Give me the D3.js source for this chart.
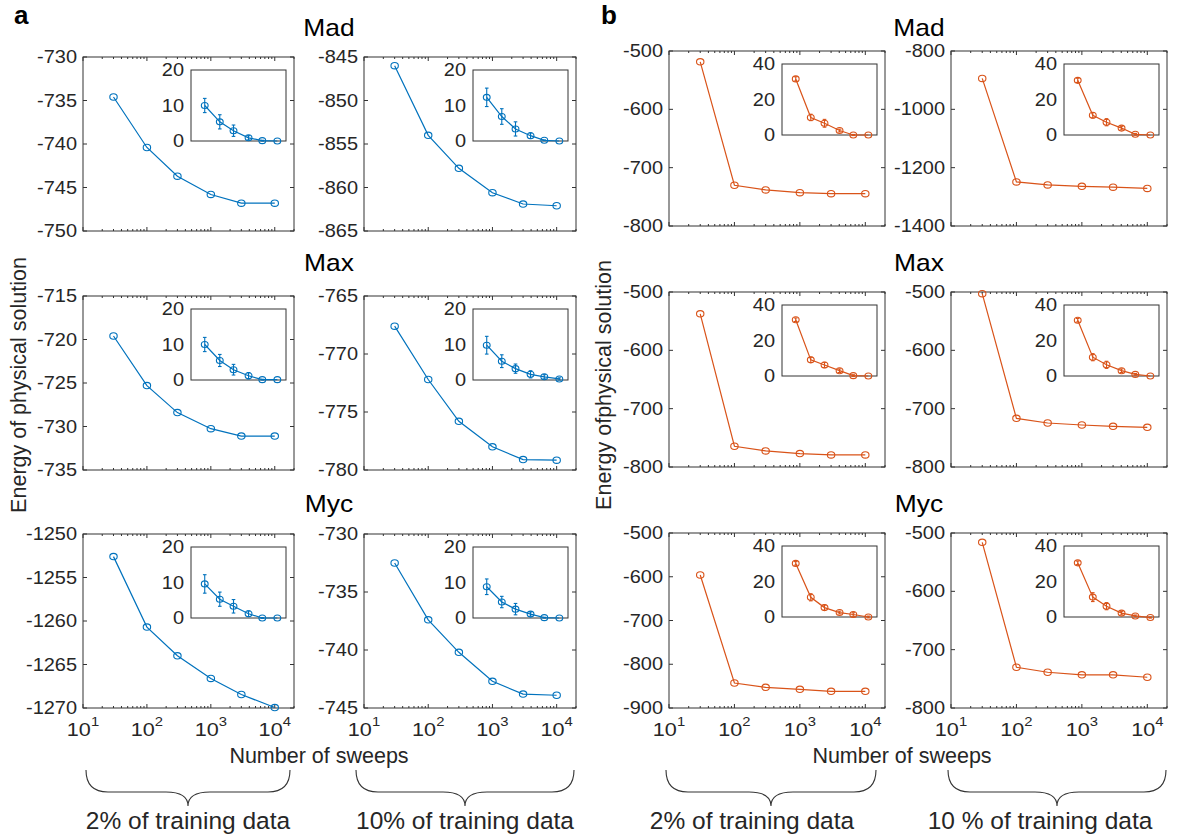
<!DOCTYPE html>
<meta charset="utf-8">
<title>sweeps</title>
<script src="https://cdn.jsdelivr.net/npm/d3@7/dist/d3.min.js"></script>
<style>
body { margin: 0; background: #fff; }
text { font-family: "Liberation Sans", Arial, sans-serif; fill: #262626; }
</style>
<body>
<script>

// number of sweeps (x of every panel)
var sweeps = [30, 100, 300, 1000, 3000, 10000];
var proteins = ["Mad", "Max", "Myc"];

// panel a (blue), energy of physical solution, rows Mad / Max / Myc
var blueEnergy2 = [
  [-734.6, -740.4, -743.7, -745.8, -746.8, -746.8],
  [-719.6, -725.3, -728.4, -730.25, -731.1, -731.1],
  [-1252.6, -1260.7, -1264.0, -1266.6, -1268.45, -1269.95]
];
var blueEnergy10 = [
  [-846.0, -854.0, -857.8, -860.6, -861.9, -862.1],
  [-767.6, -772.2, -775.8, -778.0, -779.1, -779.15],
  [-732.5, -737.4, -740.2, -742.7, -743.8, -743.9]
];
// insets: gap to best energy and its error bar
var blueGap2 = [
  [10.0, 5.4, 2.9, 0.9, 0.1, 0],
  [10.0, 5.5, 2.9, 1.2, 0.1, 0.1],
  [9.6, 5.3, 3.3, 1.2, 0, 0]
];
var blueErr2 = [
  [2.0, 2.0, 1.6, 0.6, 0.1, 0],
  [2.0, 1.7, 1.5, 0.9, 0.1, 0],
  [2.6, 2.0, 1.9, 0.8, 0.1, 0]
];
var blueGap10 = [
  [12.3, 6.9, 3.4, 1.5, 0.2, 0],
  [9.8, 5.3, 3.2, 1.6, 0.9, 0.3],
  [8.8, 4.5, 2.5, 1.1, 0.1, 0]
];
var blueErr10 = [
  [2.6, 2.2, 2.0, 0.8, 0.1, 0],
  [2.5, 1.8, 1.3, 1.0, 0.6, 0.3],
  [2.2, 1.6, 1.6, 0.6, 0.1, 0]
];

// panel b (orange)
var orangeEnergy2 = [
  [-518.5, -730.1, -738.2, -742.8, -744.5, -744.5],
  [-537.4, -764.4, -772.4, -777.0, -779.3, -779.3],
  [-596, -842.9, -852.8, -857.3, -861.9, -861.9]
];
var orangeEnergy10 = [
  [-894, -1249, -1259, -1264, -1267, -1271],
  [-502.9, -716.6, -724.6, -728, -730.3, -732],
  [-516, -730.1, -738.7, -743.2, -743.2, -747.3]
];
var orangeGap2 = [
  [31.6, 9.9, 6.6, 2.5, 0, 0],
  [31.7, 9.1, 6.2, 3.0, 0.2, 0],
  [30.2, 11.1, 5.3, 2.5, 1.4, 0]
];
var orangeErr2 = [
  [1.2, 1.8, 2.2, 0.8, 0.3, 0],
  [1.0, 1.5, 1.5, 1.0, 0.5, 0],
  [1.0, 2.0, 1.5, 0.8, 1.0, 0.5]
];
var orangeGap10 = [
  [30.8, 11.1, 7.2, 3.9, 0.4, 0],
  [31.4, 10.6, 6.3, 3.0, 0.9, 0],
  [30.5, 11.2, 6.1, 2.2, 0.6, -0.3]
];
var orangeErr10 = [
  [1.2, 1.5, 2.0, 1.0, 0.5, 0],
  [1.0, 2.0, 2.0, 1.0, 0.5, 0],
  [1.0, 2.5, 2.0, 1.0, 0.5, 0.3]
];

// y tick labels of the main axes
var blueTicks2 = [[-750, -745, -740, -735, -730], [-735, -730, -725, -720, -715], [-1270, -1265, -1260, -1255, -1250]];
var blueTicks10 = [[-865, -860, -855, -850, -845], [-780, -775, -770, -765], [-745, -740, -735, -730]];
var orangeTicks2 = [[-800, -700, -600, -500], [-800, -700, -600, -500], [-900, -800, -700, -600, -500]];
var orangeTicks10 = [[-1400, -1200, -1000, -800], [-800, -700, -600, -500], [-800, -700, -600, -500]];
var blueInsetTicks = [0, 10, 20];
var orangeInsetTicks = [0, 20, 40];
var xTickPowers = [1, 2, 3, 4];


var W = 1186, H = 836;
var svg = d3.select("body").append("svg")
    .attr("width", W)
    .attr("height", H);

var axisColor = "#333";
var TSX = 1.14;  // tick labels look a bit wide

function label(g, x, y, s, size, anchor, sx) {
  return g.append("text")
    .attr("transform", "translate(" + x + "," + y + ") scale(" + (sx || 1) + ",1)")
    .attr("text-anchor", anchor || "start")
    .attr("font-size", size + "px")
    .text(s);
}

function drawPanel(opt) {
  var g = svg.append("g");
  var x0 = opt.left, x1 = opt.left + opt.width;
  var y0 = opt.top, y1 = opt.top + opt.height;

  var x = d3.scaleLog().domain([10, 20000]).range([x0, x1]);
  var ext = d3.extent(opt.ticks);
  var y = d3.scaleLinear().domain(ext).range([y1, y0]);

  // box
  g.append("rect")
    .attr("x", x0).attr("y", y0)
    .attr("width", opt.width).attr("height", opt.height)
    .attr("fill", "none").attr("stroke", axisColor).attr("stroke-width", 1);

  // log ticks inside, top and bottom
  var xt = x.ticks().filter(function(v){ return v >= 10 && v <= 20000; });
  xt.forEach(function(v) {
    var major = Math.abs(Math.log10(v) - Math.round(Math.log10(v))) < 1e-9;
    var len = major ? 4 : 2;
    var px = x(v);
    g.append("line").attr("x1", px).attr("x2", px).attr("y1", y1).attr("y2", y1 - len)
      .attr("stroke", axisColor);
    g.append("line").attr("x1", px).attr("x2", px).attr("y1", y0).attr("y2", y0 + len)
      .attr("stroke", axisColor);
  });

  // y ticks both sides + labels on left
  opt.ticks.forEach(function(v) {
    var py = y(v);
    g.append("line").attr("x1", x0).attr("x2", x0 + 4).attr("y1", py).attr("y2", py).attr("stroke", axisColor);
    g.append("line").attr("x1", x1).attr("x2", x1 - 4).attr("y1", py).attr("y2", py).attr("stroke", axisColor);
    label(g, x0 - 6, py + 6, String(v), 17.5, "end", TSX);
  });

  if (opt.xLabels) {
    xTickPowers.forEach(function(p) {
      var t = g.append("text")
        .attr("transform", "translate(" + x(Math.pow(10, p)) + "," + (y1 + 28) + ") scale(" + TSX + ",1)")
        .attr("text-anchor", "middle")
        .attr("font-size", "19px");
      t.append("tspan").text("10");
      t.append("tspan").attr("dy", -10).attr("font-size", "13px").text(p);
    });
  }

  // main line
  var pts = sweeps.map(function(s, i){ return [x(s), y(opt.energy[i])]; });
  g.append("path")
    .attr("d", d3.line()(pts))
    .attr("fill", "none").attr("stroke", opt.color).attr("stroke-width", 1.2);
  g.selectAll(null).data(pts).enter().append("ellipse")
    .attr("cx", function(d){ return d[0]; })
    .attr("cy", function(d){ return d[1]; })
    .attr("rx", 3.7).attr("ry", 3.2)
    .attr("fill", "none").attr("stroke", opt.color).attr("stroke-width", 1.1);

  // inset
  var ix0 = x1 - 8 - 95, ix1 = x1 - 8;
  var iy0 = y0 + 13, iy1 = y0 + 13 + 71;
  var ix = d3.scaleLog().domain([10, 20000]).range([ix0, ix1]);
  var iy = d3.scaleLinear().domain(d3.extent(opt.insetTicks)).range([iy1, iy0]);
  var ig = g.append("g");
  ig.append("rect")
    .attr("x", ix0).attr("y", iy0)
    .attr("width", ix1 - ix0).attr("height", iy1 - iy0)
    .attr("fill", "#fff").attr("stroke", axisColor).attr("stroke-width", 1);
  opt.insetTicks.forEach(function(v) {
    label(ig, ix0 - 7, iy(v) + 6, String(v), 17.5, "end", TSX);
  });
  var ipts = sweeps.map(function(s, i){ return [ix(s), iy(opt.gap[i]), opt.err[i]]; });
  ipts.forEach(function(d) {
    if (d[2] <= 0) return;
    var lo = d[1] + (iy(0) - iy(d[2])), hi = d[1] - (iy(0) - iy(d[2]));
    ig.append("line").attr("x1", d[0]).attr("x2", d[0]).attr("y1", lo).attr("y2", hi)
      .attr("stroke", opt.color).attr("stroke-width", 1.1);
    [lo, hi].forEach(function(yy) {
      ig.append("line").attr("x1", d[0] - 1.8).attr("x2", d[0] + 1.8).attr("y1", yy).attr("y2", yy)
        .attr("stroke", opt.color).attr("stroke-width", 1.1);
    });
  });
  ig.append("path")
    .attr("d", d3.line()(ipts.map(function(d){ return [d[0], d[1]]; })))
    .attr("fill", "none").attr("stroke", opt.color).attr("stroke-width", 1.2);
  ig.selectAll(null).data(ipts).enter().append("ellipse")
    .attr("cx", function(d){ return d[0]; })
    .attr("cy", function(d){ return d[1]; })
    .attr("rx", 3.4).attr("ry", 3)
    .attr("fill", "none").attr("stroke", opt.color).attr("stroke-width", 1.1);
}

var blue = "#0072BD", orange = "#D95319";

var aTops = [57, 296, 534], aH = 174;
var bTops = [51, 292, 533], bH = 175;

proteins.forEach(function(p, r) {
  drawPanel({left: 83, width: 211, top: aTops[r], height: aH, color: blue,
    energy: blueEnergy2[r], ticks: blueTicks2[r], gap: blueGap2[r], err: blueErr2[r],
    insetTicks: blueInsetTicks, xLabels: r == 2});
  drawPanel({left: 364, width: 212, top: aTops[r], height: aH, color: blue,
    energy: blueEnergy10[r], ticks: blueTicks10[r], gap: blueGap10[r], err: blueErr10[r],
    insetTicks: blueInsetTicks, xLabels: r == 2});
  drawPanel({left: 669, width: 216, top: bTops[r], height: bH, color: orange,
    energy: orangeEnergy2[r], ticks: orangeTicks2[r], gap: orangeGap2[r], err: orangeErr2[r],
    insetTicks: orangeInsetTicks, xLabels: r == 2});
  drawPanel({left: 951, width: 216, top: bTops[r], height: bH, color: orange,
    energy: orangeEnergy10[r], ticks: orangeTicks10[r], gap: orangeGap10[r], err: orangeErr10[r],
    insetTicks: orangeInsetTicks, xLabels: r == 2});
});

// titles
var titleY = [36, 271, 512];
proteins.forEach(function(p, r) {
  label(svg, 329, titleY[r], p, 24, "middle", 1.1).style("fill", "#000");
  label(svg, 919, titleY[r], p, 24, "middle", 1.1).style("fill", "#000");
});

// panel letters
label(svg, 14, 24, "a", 26, "start").attr("font-weight", "bold").style("fill", "#000");
label(svg, 601, 24, "b", 26, "start").attr("font-weight", "bold").style("fill", "#000");

// y labels
svg.append("text")
  .attr("transform", "translate(26,385) rotate(-90)")
  .attr("text-anchor", "middle").attr("font-size", "21.5px")
  .text("Energy of physical solution");
svg.append("text")
  .attr("transform", "translate(611,385) rotate(-90)")
  .attr("text-anchor", "middle").attr("font-size", "21.5px")
  .text("Energy ofphysical solution");

// x labels
label(svg, 319, 763, "Number of sweeps", 21.5, "middle");
label(svg, 902, 763, "Number of sweeps", 21.5, "middle");

// braces
function brace(xa, xb) {
  var top = 770, mid = 792, tip = 806, r = 22, cx = (xa + xb) / 2;
  var d = "M" + xa + "," + top +
    "Q" + xa + "," + mid + " " + (xa + r) + "," + mid +
    "L" + (cx - r) + "," + mid +
    "Q" + cx + "," + mid + " " + cx + "," + tip +
    "Q" + cx + "," + mid + " " + (cx + r) + "," + mid +
    "L" + (xb - r) + "," + mid +
    "Q" + xb + "," + mid + " " + xb + "," + top;
  svg.append("path").attr("d", d).attr("fill", "none").attr("stroke", "#333").attr("stroke-width", 1.1);
}
brace(86, 290);
brace(356, 574);
brace(666, 876);
brace(948, 1166);

label(svg, 188, 829, "2% of training data", 24.5, "middle");
label(svg, 465, 829, "10% of training data", 24.5, "middle");
label(svg, 752, 829, "2% of training data", 24.5, "middle");
label(svg, 1040, 829, "10 % of training data", 24.5, "middle");

</script>
</body>
</html>
